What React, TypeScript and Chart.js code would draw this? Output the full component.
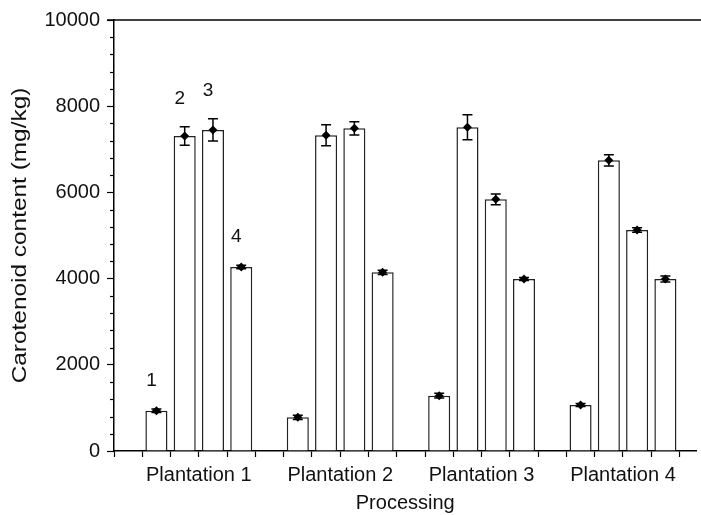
import React, { useEffect, useRef } from 'react';
import { Chart, registerables } from 'chart.js';
Chart.register(...registerables);

// ---- data ----
const plantations = ['Plantation 1', 'Plantation 2', 'Plantation 3', 'Plantation 4'];
const processingLabels = ['1', '2', '3', '4'];
const proc1 = [935, 781, 1283, 1067];
const proc2 = [7310, 7325, 7510, 6744];
const proc3 = [7450, 7487, 5840, 5128];
const proc4 = [4270, 4146, 3991, 3991];
const err1 = [40, 50, 55, 35];
const err2 = [215, 245, 290, 130];
const err3 = [260, 155, 125, 50];
const err4 = [40, 50, 35, 70];
const yMajorTicks = [0, 2000, 4000, 6000, 8000, 10000];
const yMinorStep = 400;

const series = [proc1, proc2, proc3, proc4];
const errors = [err1, err2, err3, err4];

const slotX = (g: number, k: number) => 5 * g + k + 1.5;
const labelTick = (g: number) => 5 * g + 3;

const FONT = "'Liberation Sans', Arial, Helvetica, sans-serif";

const extrasPlugin = {
  id: 'extras',
  afterDatasetsDraw(chart: any) {
    const ctx = chart.ctx;
    const xs = chart.scales.x;
    const ys = chart.scales.y;
    const area = chart.chartArea;
    ctx.save();
    // error bars
    ctx.strokeStyle = '#000';
    ctx.lineWidth = 1.5;
    for (let k = 0; k < series.length; k++) {
      for (let g = 0; g < plantations.length; g++) {
        const v = series[k][g];
        const e = errors[k][g];
        const px = xs.getPixelForValue(slotX(g, k));
        const yt = ys.getPixelForValue(v + e);
        const yb = ys.getPixelForValue(v - e);
        ctx.beginPath();
        ctx.moveTo(px, yt);
        ctx.lineTo(px, yb);
        ctx.moveTo(px - 5, yt);
        ctx.lineTo(px + 5, yt);
        ctx.moveTo(px - 5, yb);
        ctx.lineTo(px + 5, yb);
        ctx.stroke();
      }
    }
    // processing numbers over plantation 1
    ctx.fillStyle = '#111';
    ctx.font = `19px ${FONT}`;
    ctx.textAlign = 'center';
    ctx.textBaseline = 'middle';
    for (let k = 0; k < series.length; k++) {
      const v = series[k][0] + errors[k][0];
      const px = xs.getPixelForValue(slotX(0, k)) - 5;
      const py = ys.getPixelForValue(v) - 28;
      ctx.fillText(processingLabels[k], px, py);
    }
    // top frame line
    ctx.beginPath();
    ctx.lineWidth = 1.5;
    ctx.moveTo(area.left - 7, area.top);
    ctx.lineTo(chart.width, area.top);
    ctx.stroke();
    // minor y ticks
    ctx.lineWidth = 1.2;
    for (let v = 0; v <= 10000; v += yMinorStep) {
      if (yMajorTicks.includes(v)) continue;
      const py = Math.round(ys.getPixelForValue(v)) + 0.5;
      ctx.beginPath();
      ctx.moveTo(area.left - 4, py);
      ctx.lineTo(area.left, py);
      ctx.stroke();
    }
    // y axis title (stretched)
    ctx.save();
    ctx.translate(20, (area.top + area.bottom) / 2);
    ctx.rotate(-Math.PI / 2);
    ctx.scale(1.22, 1);
    ctx.font = `20px ${FONT}`;
    ctx.fillStyle = '#111';
    ctx.textAlign = 'center';
    ctx.textBaseline = 'middle';
    ctx.fillText('Carotenoid content (mg/kg)', 0, 0);
    ctx.restore();
    ctx.restore();
  },
};

export default function App() {
  const ref = useRef<HTMLCanvasElement>(null);
  useEffect(() => {
    if (!ref.current) return;
    const barSets = series.map((vals, k) => ({
      type: 'bar' as const,
      label: processingLabels[k],
      data: vals.map((v, g) => ({ x: slotX(g, k), y: v })),
      backgroundColor: '#fff',
      borderColor: '#222',
      borderWidth: 1.5,
      barPercentage: 0.78,
      categoryPercentage: 1,
      order: 2,
    }));
    const pointSets = series.map((vals, k) => ({
      type: 'scatter' as const,
      label: 'm' + processingLabels[k],
      data: vals.map((v, g) => ({ x: slotX(g, k), y: v })),
      pointStyle: 'rectRot',
      pointRadius: 4.5,
      backgroundColor: '#000',
      borderColor: '#000',
      borderWidth: 0,
      showLine: false,
      order: 1,
    }));
    const chart = new Chart(ref.current, {
      type: 'bar',
      data: { datasets: [...barSets, ...pointSets] as any },
      options: {
        animation: false,
        responsive: false,
        layout: { padding: { top: 20, right: 0, left: 0, bottom: 0 } },
        plugins: { legend: { display: false }, tooltip: { enabled: false } },
        scales: {
          x: {
            type: 'linear',
            stacked: true,
            offset: false,
            min: 0,
            max: 20.6,
            afterFit: (s: any) => { s.height = 64; s.paddingRight = 0; s.paddingLeft = 0; },
            grid: { offset: false, drawOnChartArea: false, drawTicks: true, tickLength: 6, tickColor: '#000', tickWidth: 1.2 },
            border: { color: '#000', width: 1.5 },
            ticks: {
              stepSize: 1,
              includeBounds: false,
              autoSkip: false,
              maxRotation: 0,
              padding: 6,
              color: '#111',
              font: { family: FONT, size: 20 },
              callback: (v: any) => {
                const g = plantations.findIndex((_, i) => labelTick(i) === v);
                return g >= 0 ? plantations[g] : '';
              },
            },
            title: {
              display: true,
              text: 'Processing',
              color: '#111',
              font: { family: FONT, size: 20 },
              padding: { top: 0, bottom: 0 },
            },
          },
          y: {
            min: 0,
            max: 10000,
            afterFit: (s: any) => { s.width = 114; },
            grid: { drawOnChartArea: false, drawTicks: true, tickLength: 7, tickColor: '#000', tickWidth: 1.2 },
            border: { color: '#000', width: 1.5 },
            afterBuildTicks: (s: any) => { s.ticks = yMajorTicks.map((v) => ({ value: v })); },
            ticks: {
              padding: 7,
              color: '#111',
              font: { family: FONT, size: 20 },
              callback: (v: any) => String(v),
            },
          },
        },
      },
      plugins: [extrasPlugin],
    });
    return () => chart.destroy();
  }, []);
  return (
    <div style={{ position: 'absolute', left: 0, top: 0, width: 701, height: 515, background: '#fff' }}>
      <canvas ref={ref} width={701} height={515} />
    </div>
  );
}
